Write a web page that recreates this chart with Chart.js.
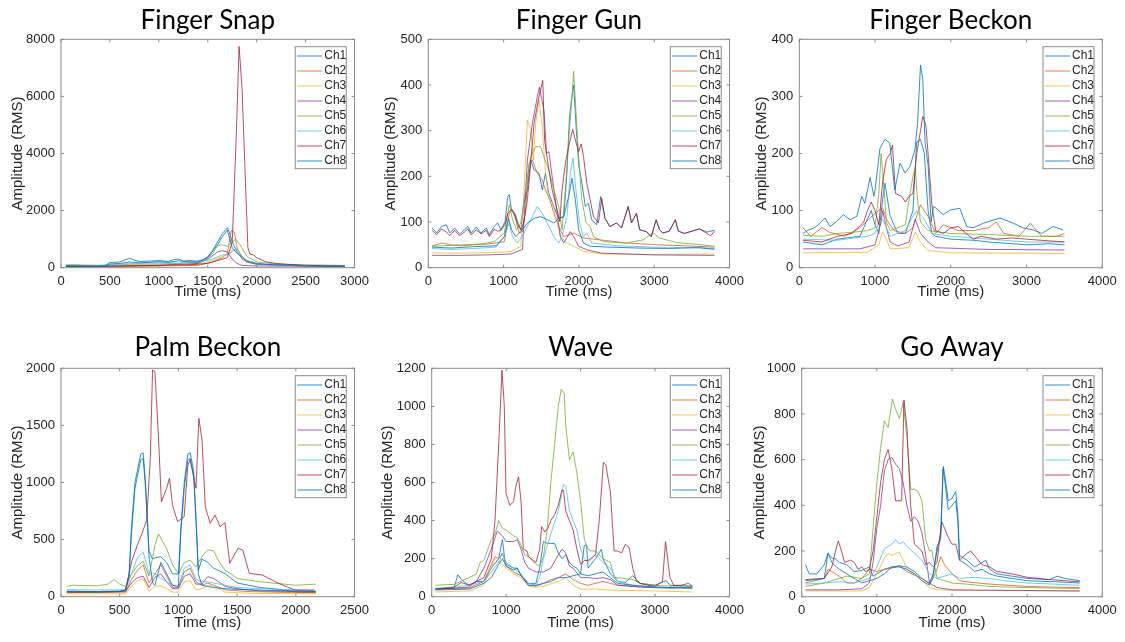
<!DOCTYPE html>
<html>
<head>
<meta charset="utf-8">
<script src="https://cdn.jsdelivr.net/npm/chart.js@4.4.1/dist/chart.umd.min.js"></script>
<style>
  body { margin: 0; background: #fff; }
  #wrap { position: relative; width: 1125px; height: 642px; overflow: hidden; }
  #wrap canvas { position: absolute; }
</style>
</head>
<body>
<div id="wrap"></div>
<script>
// EMG RMS amplitude per channel for six gestures, points are [time ms, RMS]
const channels = ['Ch1', 'Ch2', 'Ch3', 'Ch4', 'Ch5', 'Ch6', 'Ch7', 'Ch8'];
const titles = ['Finger Snap', 'Finger Gun', 'Finger Beckon', 'Palm Beckon', 'Wave', 'Go Away'];
const xMax = [3000, 4000, 4000, 2500, 4000, 4000];
const xStep = [500, 1000, 1000, 500, 1000, 1000];
const yMax = [8000, 500, 400, 2000, 1200, 1000];
const yStep = [2000, 100, 100, 500, 200, 200];

// Finger Snap
const snapCh1 = [[50,80],[150,90],[250,70],[350,60],[450,80],[500,180],[600,200],[700,330],[750,260],[800,220],[900,230],[1000,250],[1100,220],[1150,280],[1200,300],[1250,230],[1300,250],[1400,230],[1450,280],[1500,380],[1550,600],[1600,900],[1650,1200],[1700,1400],[1720,1250],[1750,900],[1800,550],[1850,400],[1900,250],[2000,150],[2100,120],[2300,90],[2500,70],[2700,60],[2900,60]];
const snapCh2 = [[50,30],[400,40],[800,50],[1000,60],[1200,70],[1400,80],[1550,200],[1650,350],[1700,500],[1740,1300],[1770,1250],[1800,700],[1850,300],[1900,200],[2000,120],[2200,90],[2500,60],[2900,40]];
const snapCh3 = [[50,40],[500,50],[1000,70],[1400,120],[1550,250],[1650,400],[1750,550],[1790,700],[1850,400],[1900,250],[2000,120],[2300,80],[2600,60],[2900,50]];
const snapCh4 = [[50,60],[500,60],[1000,90],[1400,150],[1500,300],[1600,550],[1650,600],[1700,550],[1750,300],[1800,150],[1850,80],[2000,60],[2500,55],[2900,50]];
const snapCh5 = [[50,100],[300,90],[500,80],[700,120],[1000,130],[1200,150],[1400,200],[1500,350],[1550,500],[1600,780],[1650,800],[1700,750],[1750,900],[1790,1000],[1830,800],[1900,400],[2000,200],[2200,130],[2500,100],[2700,90],[2900,80]];
const snapCh6 = [[50,50],[300,60],[500,100],[700,150],[1000,170],[1200,160],[1400,180],[1550,300],[1650,450],[1700,450],[1750,600],[1800,650],[1850,400],[1900,200],[2000,120],[2500,70],[2900,60]];
const snapCh7 = [[50,40],[500,50],[1000,80],[1300,100],[1500,150],[1600,250],[1700,350],[1750,900],[1790,4500],[1820,7750],[1850,6300],[1880,3500],[1910,700],[1930,480],[1970,440],[2000,350],[2100,200],[2200,150],[2300,120],[2500,80],[2700,60],[2900,50]];
const snapCh8 = [[50,60],[300,50],[450,60],[500,130],[600,150],[700,200],[800,170],[1000,210],[1100,190],[1200,240],[1300,210],[1400,200],[1500,350],[1600,800],[1650,1100],[1700,1320],[1750,700],[1800,500],[1850,350],[1900,220],[2000,130],[2200,100],[2500,70],[2900,55]];

// Finger Gun
const gunCh1 = [[50,87],[110,76],[175,90],[240,94],[285,76],[350,87],[415,74],[480,83],[525,90],[570,76],[635,89],[700,76],[770,87],[810,72],[875,90],[920,98],[965,83],[1020,101],[1055,156],[1075,160],[1105,127],[1150,119],[1185,101],[1230,83],[1270,141],[1315,170],[1360,236],[1405,214],[1470,207],[1515,170],[1555,207],[1600,163],[1665,134],[1735,108],[1800,112],[1840,207],[1875,331],[1910,378],[1930,400],[1965,302],[2000,221],[2040,185],[2085,134],[2125,141],[2170,105],[2235,94],[2290,156],[2345,108],[2410,90],[2500,98],[2565,87],[2655,134],[2700,98],[2765,119],[2805,83],[2895,79],[2960,68],[3025,105],[3070,83],[3115,76],[3200,80],[3280,105],[3320,80],[3400,75],[3500,80],[3600,85],[3700,78],[3800,82]];
const gunCh2 = [[50,47],[175,54],[300,50],[440,48],[600,50],[800,52],[1010,57],[1075,119],[1118,127],[1162,105],[1206,76],[1250,79],[1294,134],[1338,229],[1382,236],[1447,207],[1513,192],[1557,170],[1614,149],[1667,119],[1733,90],[1798,68],[1930,76],[2061,65],[2281,61],[2632,54],[3070,50],[3400,48],[3800,45]];
const gunCh3 = [[50,32],[400,32],[800,33],[1100,35],[1228,47],[1272,170],[1316,323],[1360,302],[1395,236],[1425,316],[1469,367],[1513,309],[1557,207],[1601,149],[1645,141],[1711,101],[1754,68],[1842,54],[1930,47],[2061,36],[2300,30],[3000,29],[3800,30]];
const gunCh4 = [[50,27],[400,27],[800,28],[1100,30],[1250,40],[1316,236],[1382,316],[1447,374],[1475,395],[1535,345],[1570,251],[1601,254],[1645,200],[1711,119],[1754,68],[1798,54],[1886,79],[1930,68],[1996,47],[2105,39],[2300,32],[3000,28],[3800,27]];
const gunCh5 = [[50,47],[200,48],[438,50],[700,52],[877,57],[1009,76],[1075,138],[1118,105],[1175,83],[1228,98],[1294,178],[1360,243],[1425,265],[1491,265],[1535,243],[1601,214],[1667,170],[1733,134],[1776,83],[1820,170],[1864,280],[1908,374],[1930,430],[1960,345],[1996,243],[2039,149],[2096,98],[2149,90],[2193,68],[2325,57],[2632,54],[2851,61],[2983,76],[3070,65],[3300,55],[3500,52],[3800,47]];
const gunCh6 = [[50,42],[300,40],[600,42],[900,45],[1009,68],[1075,98],[1118,68],[1184,54],[1272,76],[1360,105],[1447,134],[1513,119],[1579,98],[1667,68],[1733,54],[1776,68],[1842,112],[1886,207],[1921,240],[1960,170],[2009,98],[2061,68],[2105,76],[2171,54],[2500,48],[3000,45],[3500,44],[3800,42]];
const gunCh7 = [[50,82],[110,72],[175,85],[240,78],[285,70],[350,82],[415,70],[480,78],[525,85],[570,72],[635,83],[700,74],[770,82],[810,68],[875,84],[920,80],[965,82],[1020,95],[1060,120],[1100,127],[1150,115],[1185,95],[1230,82],[1270,100],[1316,149],[1360,229],[1404,316],[1469,374],[1520,410],[1544,280],[1588,229],[1645,170],[1711,127],[1746,101],[1776,170],[1820,229],[1864,265],[1917,303],[1952,280],[1996,254],[2031,271],[2061,243],[2105,185],[2149,149],[2193,112],[2259,98],[2303,152],[2347,108],[2412,90],[2500,98],[2566,87],[2654,134],[2697,98],[2763,119],[2807,83],[2895,79],[2961,68],[3026,105],[3070,83],[3114,76],[3200,80],[3250,95],[3280,105],[3320,80],[3400,75],[3500,80],[3600,85],[3700,75],[3750,70],[3800,80]];
const gunCh8 = [[50,45],[300,43],[600,46],[900,48],[1009,68],[1066,108],[1105,83],[1162,68],[1250,83],[1316,98],[1404,108],[1491,112],[1579,105],[1667,98],[1733,108],[1798,112],[1864,156],[1908,196],[1952,149],[1996,83],[2061,54],[2149,47],[2400,45],[2800,43],[3200,42],[3600,44],[3800,40]];

// Finger Beckon
const beckCh1 = [[50,45],[300,40],[500,50],[800,55],[950,100],[1000,75],[1050,60],[1100,120],[1130,148],[1200,90],[1300,60],[1400,60],[1500,100],[1550,220],[1600,225],[1650,200],[1700,100],[1750,60],[1800,55],[2000,50],[2300,48],[2500,45],[2800,42],[3000,40],[3300,42],[3500,40]];
const beckCh2 = [[50,70],[150,55],[300,70],[400,62],[600,55],[800,70],[1000,95],[1100,105],[1150,85],[1250,65],[1400,60],[1500,70],[1600,110],[1700,90],[1800,60],[1900,75],[2100,65],[2300,65],[2500,70],[2600,80],[2700,60],[2900,55],[3050,78],[3200,55],[3400,55],[3500,60]];
const beckCh3 = [[50,26],[900,27],[1050,40],[1100,63],[1150,50],[1200,33],[1450,35],[1530,62],[1600,45],[1700,30],[2000,26],[3500,25]];
const beckCh4 = [[50,33],[800,33],[1000,40],[1080,80],[1100,100],[1150,70],[1200,45],[1300,38],[1450,45],[1530,85],[1600,60],[1700,45],[1800,35],[2500,32],[3500,31]];
const beckCh5 = [[50,57],[300,55],[500,60],[700,62],[900,65],[1000,70],[1050,130],[1080,200],[1100,170],[1150,80],[1200,65],[1400,75],[1450,120],[1500,160],[1530,175],[1560,120],[1600,80],[1700,65],[2000,60],[2500,58],[3000,55],[3500,55]];
const beckCh6 = [[50,50],[500,48],[900,55],[1000,60],[1050,80],[1100,85],[1200,55],[1400,65],[1500,90],[1550,100],[1650,85],[1750,60],[2000,55],[2500,50],[3000,45],[3500,45]];
const beckCh7 = [[50,48],[300,45],[500,55],[700,60],[850,80],[900,100],[950,115],[1000,100],[1050,75],[1100,150],[1150,190],[1200,200],[1230,215],[1270,130],[1350,125],[1400,115],[1450,125],[1500,130],[1550,200],[1600,240],[1630,265],[1670,250],[1700,200],[1750,110],[1800,65],[1900,60],[2000,70],[2100,72],[2200,60],[2300,50],[2400,55],[2600,50],[2800,52],[3000,50],[3200,48],[3500,45]];
const beckCh8 = [[50,60],[120,66],[185,69],[250,75],[340,87],[405,72],[495,81],[580,93],[670,84],[760,90],[825,125],[865,113],[935,158],[985,125],[1000,136],[1065,209],[1130,225],[1195,218],[1260,136],[1330,183],[1395,166],[1460,177],[1525,206],[1560,250],[1600,355],[1630,330],[1660,220],[1700,180],[1740,80],[1770,107],[1800,105],[1900,93],[1990,101],[2120,104],[2210,72],[2300,70],[2430,78],[2650,87],[2825,78],[2950,70],[3090,66],[3200,60],[3350,72],[3485,66]];

// Palm Beckon
const palmCh1 = [[50,50],[300,45],[500,50],[550,60],[580,200],[600,600],[630,1000],[650,1100],[680,1250],[700,1260],[720,1000],[750,400],[780,330],[800,340],[850,350],[900,300],[950,200],[1000,200],[1020,600],[1050,1000],[1080,1250],[1100,1260],[1130,1100],[1150,700],[1170,230],[1200,330],[1250,300],[1300,250],[1400,200],[1500,120],[1600,100],[1700,80],[1900,60],[2000,40],[2170,35]];
const palmCh2 = [[50,40],[550,40],[600,150],[650,230],[700,280],[750,120],[800,200],[850,280],[900,180],[950,80],[1000,80],[1050,220],[1100,250],[1150,130],[1200,100],[1250,120],[1300,100],[1400,60],[1600,45],[2000,35],[2170,35]];
const palmCh3 = [[50,25],[550,25],[600,90],[650,140],[700,160],[750,50],[800,90],[850,95],[900,70],[950,40],[1000,40],[1050,130],[1100,140],[1150,60],[1200,70],[1250,100],[1300,90],[1400,40],[1600,30],[2170,25]];
const palmCh4 = [[50,40],[550,45],[600,120],[650,165],[700,180],[750,80],[800,170],[850,200],[900,130],[950,70],[1000,70],[1050,180],[1100,200],[1150,110],[1200,110],[1250,175],[1300,160],[1400,90],[1500,70],[1700,50],[2000,45],[2170,45]];
const palmCh5 = [[50,90],[100,100],[300,95],[400,110],[450,150],[500,110],[550,90],[600,200],[650,270],[700,310],[750,180],[800,450],[830,550],[900,420],[950,280],[1000,200],[1050,300],[1100,320],[1150,260],[1200,350],[1250,410],[1300,400],[1350,300],[1400,230],[1450,200],[1500,160],[1550,150],[1600,145],[1700,130],[1800,120],[1900,110],[2000,100],[2170,110]];
const palmCh6 = [[50,60],[500,60],[550,60],[600,200],[650,340],[700,390],[750,200],[800,200],[850,160],[900,130],[950,100],[1000,90],[1050,250],[1100,280],[1150,150],[1200,130],[1250,130],[1300,120],[1500,80],[1700,70],[2000,60],[2170,55]];
const palmCh7 = [[50,40],[300,40],[500,45],[550,60],[605,320],[650,450],[690,555],[730,670],[760,1200],[780,1985],[800,1970],[830,1400],[855,832],[900,950],[924,1037],[950,800],[993,657],[1049,700],[1080,1150],[1100,1200],[1130,1050],[1150,950],[1174,1562],[1201,1372],[1229,788],[1271,642],[1312,715],[1354,613],[1396,648],[1437,292],[1507,423],[1548,409],[1604,204],[1715,190],[1853,117],[1992,58],[2158,58]];
const palmCh8 = [[50,45],[300,40],[500,45],[550,55],[580,180],[600,550],[630,950],[650,1050],[680,1200],[700,1210],[720,950],[750,350],[780,120],[800,100],[850,300],[900,200],[950,100],[1000,90],[1020,550],[1050,950],[1080,1200],[1100,1210],[1130,1050],[1150,650],[1170,200],[1200,100],[1300,80],[1400,70],[1600,60],[2000,50],[2170,45]];

// Wave
const waveCh1 = [[50,40],[300,45],[350,115],[400,90],[500,60],[600,80],[700,80],[800,150],[900,200],[950,300],[980,200],[1000,170],[1100,150],[1150,150],[1200,110],[1300,70],[1400,70],[1450,150],[1500,290],[1550,280],[1600,280],[1650,280],[1700,230],[1750,200],[1800,220],[1850,180],[1900,160],[1950,150],[2000,120],[2050,270],[2080,270],[2100,150],[2200,200],[2280,250],[2300,200],[2400,120],[2500,80],[2600,75],[2700,110],[2800,70],[3000,60],[3150,85],[3200,60],[3500,55]];
const waveCh2 = [[50,40],[500,45],[700,80],[850,210],[900,200],[950,230],[1000,160],[1100,130],[1200,110],[1300,60],[1400,55],[1500,70],[1600,90],[1700,100],[1800,120],[1900,90],[2000,70],[2100,60],[2300,80],[2400,70],[2500,60],[3000,50],[3500,45]];
const waveCh3 = [[50,25],[500,30],[700,60],[850,200],[900,180],[950,170],[1000,150],[1100,120],[1200,100],[1300,55],[1400,50],[1500,55],[1700,80],[1800,100],[1900,60],[2000,40],[2200,40],[2400,35],[3000,30],[3500,25]];
const waveCh4 = [[50,40],[500,50],[600,80],[700,150],[800,250],[880,345],[950,320],[1000,290],[1100,290],[1150,300],[1200,250],[1250,180],[1300,150],[1400,130],[1500,130],[1600,150],[1700,220],[1750,250],[1800,230],[1850,160],[1900,150],[2000,100],[2100,100],[2200,95],[2300,100],[2400,90],[2500,60],[2800,50],[3200,45],[3500,50]];
const waveCh5 = [[50,60],[300,65],[500,100],[600,120],[650,180],[700,190],[800,300],[850,330],[900,400],[950,360],[1000,350],[1100,320],[1150,310],[1200,270],[1250,220],[1300,210],[1400,170],[1450,160],[1500,210],[1550,350],[1600,600],[1650,800],[1700,1000],[1740,1090],[1780,1070],[1800,900],[1850,720],[1900,760],[1950,650],[2000,500],[2050,300],[2100,250],[2150,240],[2200,240],[2300,200],[2400,180],[2450,100],[2500,100],[2600,95],[2700,90],[2800,70],[3000,60],[3200,55],[3500,55]];
const waveCh6 = [[50,45],[300,50],[500,60],[700,80],[900,180],[950,230],[1000,180],[1100,150],[1200,120],[1300,70],[1400,60],[1450,100],[1500,200],[1600,330],[1700,450],[1770,590],[1800,580],[1850,450],[1900,400],[1950,350],[2000,250],[2050,200],[2100,180],[2200,220],[2300,180],[2400,150],[2500,80],[2700,60],[3000,50],[3500,45]];
const waveCh7 = [[50,40],[300,50],[400,75],[500,60],[600,80],[700,100],[800,200],[850,400],[900,800],[944,1190],[975,1000],[998,543],[1050,480],[1100,500],[1130,580],[1166,630],[1200,500],[1230,250],[1280,240],[1300,210],[1400,180],[1450,250],[1477,368],[1520,340],[1560,360],[1600,400],[1650,430],[1700,480],[1750,560],[1770,560],[1800,450],[1850,400],[1900,350],[1950,250],[2000,170],[2050,190],[2100,190],[2200,220],[2250,400],[2306,706],[2340,690],[2400,550],[2450,240],[2500,240],[2550,230],[2600,275],[2650,260],[2700,150],[2750,80],[2800,70],[2900,60],[3000,55],[3100,80],[3140,289],[3200,100],[3250,60],[3350,60],[3450,70],[3500,55]];
const waveCh8 = [[50,35],[500,40],[700,70],[800,100],[900,170],[950,200],[1000,160],[1100,140],[1150,150],[1200,110],[1300,60],[1400,60],[1500,70],[1600,80],[1700,100],[1800,100],[1900,110],[2000,120],[2100,110],[2200,120],[2300,130],[2400,100],[2500,70],[2700,60],[3000,50],[3500,45]];

// Go Away
const awayCh1 = [[50,140],[100,100],[200,100],[300,140],[350,190],[400,170],[450,165],[500,150],[600,140],[700,110],[800,115],[900,130],[950,90],[1000,100],[1100,120],[1200,130],[1300,135],[1400,130],[1500,110],[1600,80],[1700,60],[1750,100],[1800,200],[1850,280],[1885,570],[1900,540],[1950,420],[2000,430],[2050,460],[2080,350],[2100,180],[2200,160],[2300,130],[2400,150],[2450,160],[2500,120],[2600,100],[2800,90],[3000,80],[3300,75],[3400,90],[3500,80],[3700,70]];
const awayCh2 = [[50,60],[300,80],[350,120],[400,110],[450,100],[500,90],[600,60],[700,60],[800,80],[900,120],[1000,110],[1100,120],[1200,125],[1300,135],[1400,110],[1500,95],[1600,80],[1700,55],[1750,80],[1800,120],[1850,175],[1900,140],[2000,100],[2100,70],[2200,65],[2500,55],[3000,45],[3700,40]];
const awayCh3 = [[50,25],[500,25],[800,25],[900,40],[1000,100],[1100,170],[1150,190],[1200,180],[1250,190],[1300,195],[1350,160],[1400,120],[1500,100],[1600,70],[1700,40],[1800,30],[2000,28],[3700,25]];
const awayCh4 = [[50,30],[500,30],[800,35],[900,60],[950,150],[1000,300],[1050,400],[1100,550],[1150,600],[1200,610],[1250,580],[1300,560],[1350,500],[1400,400],[1450,330],[1500,350],[1550,330],[1600,280],[1650,180],[1700,60],[1750,50],[1800,40],[2000,30],[3700,25]];
const awayCh5 = [[50,45],[300,60],[400,70],[500,80],[600,90],[700,85],[800,80],[900,100],[950,300],[1000,500],[1050,650],[1100,770],[1150,740],[1206,865],[1250,820],[1300,780],[1350,850],[1400,700],[1450,470],[1500,470],[1550,460],[1600,420],[1650,250],[1700,200],[1730,204],[1800,80],[1900,70],[2000,60],[2200,55],[2500,45],[3000,40],[3700,35]];
const awayCh6 = [[50,55],[300,60],[500,65],[700,60],[900,80],[1000,130],[1100,210],[1200,230],[1250,250],[1300,230],[1350,240],[1400,220],[1500,190],[1600,160],[1700,100],[1800,80],[1900,90],[2000,100],[2100,80],[2300,85],[2500,80],[2700,70],[3000,60],[3700,50]];
const awayCh7 = [[50,75],[300,80],[400,130],[450,200],[487,244],[530,200],[570,150],[650,160],[700,150],[750,120],[800,130],[850,110],[900,120],[950,200],[1000,350],[1050,500],[1100,600],[1150,645],[1200,560],[1250,420],[1330,420],[1361,861],[1400,740],[1450,400],[1500,230],[1600,200],[1650,140],[1700,150],[1750,130],[1800,150],[1863,328],[1900,300],[1950,260],[2000,230],[2050,230],[2100,160],[2200,190],[2250,200],[2300,180],[2400,140],[2500,130],[2600,110],[2800,100],[3000,85],[3300,75],[3700,65]];
const awayCh8 = [[50,70],[300,80],[350,190],[400,150],[500,120],[600,100],[700,80],[800,60],[900,70],[1000,80],[1100,100],[1200,130],[1300,130],[1400,120],[1500,100],[1600,70],[1700,50],[1750,90],[1800,220],[1850,250],[1880,560],[1900,520],[1950,380],[2000,400],[2050,420],[2080,320],[2100,160],[2200,140],[2300,110],[2400,120],[2500,100],[2600,90],[2800,80],[3000,70],[3400,65],[3700,60]];

const panelSeries = [
  [snapCh1, snapCh2, snapCh3, snapCh4, snapCh5, snapCh6, snapCh7, snapCh8],
  [gunCh1, gunCh2, gunCh3, gunCh4, gunCh5, gunCh6, gunCh7, gunCh8],
  [beckCh1, beckCh2, beckCh3, beckCh4, beckCh5, beckCh6, beckCh7, beckCh8],
  [palmCh1, palmCh2, palmCh3, palmCh4, palmCh5, palmCh6, palmCh7, palmCh8],
  [waveCh1, waveCh2, waveCh3, waveCh4, waveCh5, waveCh6, waveCh7, waveCh8],
  [awayCh1, awayCh2, awayCh3, awayCh4, awayCh5, awayCh6, awayCh7, awayCh8]
];

// MATLAB default line order, eighth line wraps to the first colour
const chColors = ['rgba(0,114,189,0.8)', 'rgba(217,83,25,0.75)', 'rgba(237,177,32,0.75)', 'rgba(126,47,142,0.75)',
                  'rgba(119,172,48,0.8)', 'rgba(77,190,238,0.8)', 'rgba(162,20,47,0.75)', 'rgba(0,114,189,0.8)'];
const axisColor = '#8a8a8a';
const textColor = '#262626';

// canvas box (cx, cy, cw, ch) and axes box (l, t, r, b) in page pixels,
// yt = centre of the y title from the canvas' left edge, xb = gap under the x title
const frames = [
  { cx: 0,   cy: 0,   cw: 375, ch: 310, l: 61,    t: 39.3,  r: 361,    b: 267.7, yt: 17.5, xb: 9 },
  { cx: 375, cy: 0,   cw: 375, ch: 310, l: 428.3, t: 39.3,  r: 732.3,  b: 267.7, yt: 15.5, xb: 9 },
  { cx: 750, cy: 0,   cw: 375, ch: 310, l: 799.3, t: 39.3,  r: 1102.3, b: 267.7, yt: 12,   xb: 9 },
  { cx: 0,   cy: 320, cw: 375, ch: 322, l: 61,    t: 368.3, r: 361,    b: 596.7, yt: 17.5, xb: 10 },
  { cx: 375, cy: 320, cw: 375, ch: 322, l: 431.7, t: 368.3, r: 732.3,  b: 596.7, yt: 12.8, xb: 10 },
  { cx: 750, cy: 320, cw: 375, ch: 322, l: 801.7, t: 368.3, r: 1102.3, b: 596.7, yt: 9.7,  xb: 10 }
];

Chart.defaults.font.family = "'Liberation Sans', Arial, sans-serif";
Chart.defaults.color = textColor;

// box round the axes with inward tick marks on all four sides
const axesBox = {
  id: 'axesBox',
  afterDatasetsDraw(chart) {
    const { ctx, chartArea: a, scales: { x, y } } = chart;
    const len = 3;
    ctx.save();
    ctx.strokeStyle = axisColor;
    ctx.lineWidth = 1;
    ctx.strokeRect(a.left, a.top, a.right - a.left, a.bottom - a.top);
    ctx.beginPath();
    x.ticks.forEach(t => {
      const px = x.getPixelForValue(t.value);
      ctx.moveTo(px, a.bottom); ctx.lineTo(px, a.bottom - len);
      ctx.moveTo(px, a.top); ctx.lineTo(px, a.top + len);
    });
    y.ticks.forEach(t => {
      const py = y.getPixelForValue(t.value);
      ctx.moveTo(a.left, py); ctx.lineTo(a.left + len, py);
      ctx.moveTo(a.right, py); ctx.lineTo(a.right - len, py);
    });
    ctx.stroke();
    ctx.restore();
  }
};

// legend box in the upper right corner of the axes
const cornerLegend = {
  id: 'cornerLegend',
  afterDraw(chart) {
    const { ctx, chartArea: a } = chart;
    const w = 51, h = 122, rowH = 15;
    const left = a.right - 8.3 - w, top = a.top + 7.4;
    ctx.save();
    ctx.fillStyle = '#fff';
    ctx.fillRect(left, top, w, h);
    ctx.strokeStyle = axisColor;
    ctx.lineWidth = 1;
    ctx.strokeRect(left, top, w, h);
    ctx.font = "12px 'Liberation Sans', Arial, sans-serif";
    ctx.textBaseline = 'middle';
    chart.data.datasets.forEach((ds, k) => {
      const yy = top + 9.3 + k * rowH;
      ctx.strokeStyle = ds.borderColor;
      ctx.beginPath();
      ctx.moveTo(left + 2, yy);
      ctx.lineTo(left + 27, yy);
      ctx.stroke();
      ctx.fillStyle = textColor;
      ctx.fillText(ds.label, left + 29, yy);
    });
    ctx.restore();
  }
};

// gesture name above each axes
const panelTitle = {
  id: 'panelTitle',
  afterDraw(chart, args, opts) {
    const { ctx, chartArea: a } = chart;
    ctx.save();
    ctx.font = "26px Lato, 'Open Sans', sans-serif";
    ctx.fillStyle = '#000';
    ctx.textAlign = 'center';
    ctx.textBaseline = 'alphabetic';
    ctx.fillText(opts.text, (a.left + a.right) / 2, a.top - opts.gap);
    ctx.restore();
  }
};

const wrap = document.getElementById('wrap');

frames.forEach((f, i) => {
  const cv = document.createElement('canvas');
  cv.width = f.cw;
  cv.height = f.ch;
  cv.style.left = f.cx + 'px';
  cv.style.top = f.cy + 'px';
  wrap.appendChild(cv);

  const datasets = panelSeries[i].map((pts, k) => ({
    label: channels[k],
    data: pts.map(p => ({ x: p[0], y: p[1] })),
    borderColor: chColors[k],
    borderWidth: 1,
    pointRadius: 0,
    tension: 0,
    order: 7 - k
  }));

  new Chart(cv, {
    type: 'line',
    data: { datasets },
    options: {
      responsive: false,
      animation: false,
      devicePixelRatio: 1,
      layout: { padding: { left: 0, top: f.t - f.cy, right: f.cx + f.cw - f.r, bottom: 0 } },
      plugins: {
        legend: { display: false },
        tooltip: { enabled: false },
        panelTitle: { text: titles[i], gap: i < 3 ? 10.5 : 12 }
      },
      scales: {
        x: {
          type: 'linear',
          min: 0,
          max: xMax[i],
          grid: { display: false, drawTicks: false },
          border: { display: false },
          ticks: { stepSize: xStep[i], padding: 6, maxRotation: 0, autoSkip: false,
                   font: { size: 13 }, color: textColor, callback: v => String(v) },
          title: { display: true, text: 'Time (ms)', font: { size: 15 }, color: textColor,
                   padding: { top: 0, bottom: f.xb } },
          afterFit(s) { s.height = f.cy + f.ch - f.b; }
        },
        y: {
          min: 0,
          max: yMax[i],
          grid: { display: false, drawTicks: false },
          border: { display: false },
          ticks: { stepSize: yStep[i], padding: 6, autoSkip: false,
                   font: { size: 13 }, color: textColor, callback: v => String(v) },
          title: { display: true, text: 'Amplitude (RMS)', font: { size: 15 }, color: textColor,
                   padding: { top: f.yt - 9, bottom: 0 } },
          afterFit(s) { s.width = f.l - f.cx; }
        }
      }
    },
    plugins: [axesBox, cornerLegend, panelTitle]
  });
});
</script>
</body>
</html>
